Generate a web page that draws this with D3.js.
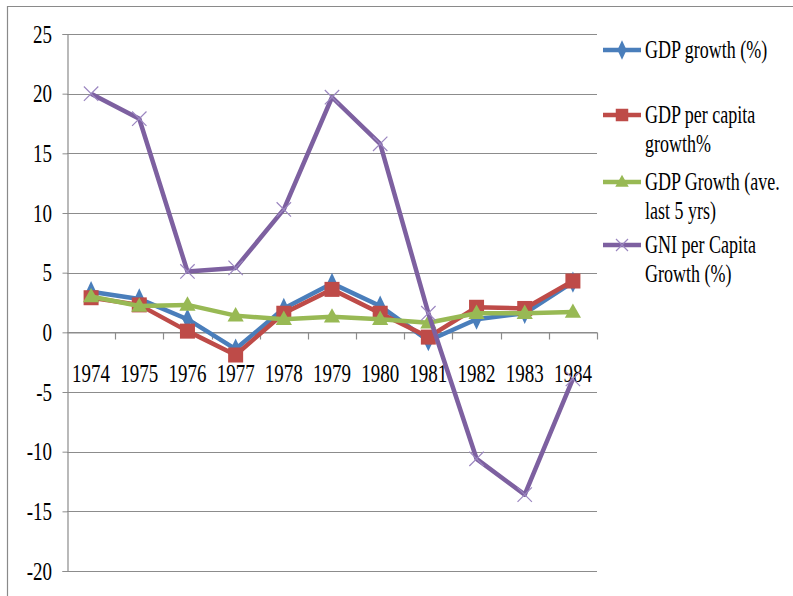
<!DOCTYPE html>
<html>
<head>
<meta charset="utf-8">
<script src="https://cdn.jsdelivr.net/npm/d3@7"></script>
<style>
  html, body { margin: 0; padding: 0; background: #fff; }
  svg { display: block; }
</style>
</head>
<body>
<svg id="chart" width="793" height="596"></svg>
<script>
const years = ["1974","1975","1976","1977","1978","1979","1980","1981","1982","1983","1984"];
const gdpGrowth      = [3.4, 2.8, 1.1, -1.4, 2.0, 4.1, 2.2, -0.7, 1.1, 1.6, 4.2];
const gdpPerCapita   = [2.9, 2.3, 0.1, -1.9, 1.6, 3.6, 1.6, -0.4, 2.1, 2.0, 4.3];
const gdpGrowthAve   = [3.0, 2.2, 2.3, 1.4, 1.1, 1.3, 1.1, 0.8, 1.6, 1.6, 1.7];
const gniPerCapita   = [20.0, 17.9, 5.1, 5.4, 10.3, 19.7, 15.8, 1.6, -10.6, -13.6, -3.9];
const yTicks = [25, 20, 15, 10, 5, 0, -5, -10, -15, -20];
const seriesNames = [["GDP growth (%)"], ["GDP per capita", "growth%"], ["GDP Growth (ave.", "last 5 yrs)"], ["GNI per Capita", "Growth (%)"]];

const colors = ["#4a7ebb", "#be4b48", "#98b954", "#7d60a0"];
const markers = ["diamond", "square", "triangle", "x"];
const seriesData = [gdpGrowth, gdpPerCapita, gdpGrowthAve, gniPerCapita];

const svg = d3.select("#chart");
const font = "'Liberation Serif', 'Times New Roman', serif";
const SY = 1.35;

// outer frame
svg.append("line").attr("x1", 7).attr("x2", 793).attr("y1", 6.5).attr("y2", 6.5).attr("stroke", "#8a8a8a").attr("stroke-width", 1.2);
svg.append("line").attr("x1", 7.5).attr("x2", 7.5).attr("y1", 6).attr("y2", 596).attr("stroke", "#8a8a8a").attr("stroke-width", 1.2);

const x = d3.scaleBand().domain(years).range([67, 597]).padding(0);
const y = d3.scaleLinear().domain([-20, 25]).range([571, 34]);
const cx = d => x(d) + x.bandwidth() / 2;

// gridlines
svg.append("g").selectAll("line").data(yTicks).join("line")
  .attr("x1", 67).attr("x2", 597)
  .attr("y1", d => Math.round(y(d)) + 0.5).attr("y2", d => Math.round(y(d)) + 0.5)
  .attr("stroke", "#8c8c8c").attr("stroke-width", 1.2);

// y axis
const yAxis = d3.axisLeft(y).tickValues(yTicks).tickSize(5).tickFormat(d => String(d));
const gy = svg.append("g").attr("transform", "translate(67.5,0)").call(yAxis);
gy.select(".domain").attr("stroke", "#8c8c8c").attr("stroke-width", 1.2);
gy.selectAll(".tick line").attr("stroke", "#8c8c8c");
gy.selectAll(".tick text").remove();
svg.append("g").selectAll("text").data(yTicks).join("text")
  .attr("transform", d => `translate(52,${y(d) + 8.5}) scale(1,${SY})`)
  .attr("text-anchor", "end")
  .attr("font-family", font).attr("font-size", 19).attr("fill", "#000")
  .text(d => String(d));

// x axis at zero
const y0 = Math.round(y(0)) + 0.5;
const xAxis = d3.axisBottom(x).tickSize(0).tickFormat("");
const gx = svg.append("g").attr("transform", `translate(0,${y0})`).call(xAxis);
gx.select(".domain").attr("stroke", "#8c8c8c").attr("stroke-width", 1.2);
gx.selectAll(".tick").remove();
const bounds = years.map(d => x(d) + x.bandwidth());
svg.append("g").selectAll("line").data(bounds).join("line")
  .attr("x1", d => Math.round(d) + 0.5).attr("x2", d => Math.round(d) + 0.5)
  .attr("y1", y0).attr("y2", y0 + 7)
  .attr("stroke", "#8c8c8c").attr("stroke-width", 1.2);
svg.append("g").selectAll("text").data(years).join("text")
  .attr("transform", d => `translate(${cx(d)},${y0 + 49}) scale(1,${SY})`)
  .attr("text-anchor", "middle")
  .attr("font-family", font).attr("font-size", 19).attr("fill", "#000")
  .text(d => d);

function drawMarker(g, type, color, size) {
  if (type === "diamond") {
    g.append("path").attr("d", d3.symbol(d3.symbolDiamond, size * 9)()).attr("fill", color)
      .attr("transform", "scale(0.9,1.1)");
  } else if (type === "square") {
    const s = size * 1.25;
    g.append("rect").attr("x", -s/2).attr("y", -s/2).attr("width", s).attr("height", s).attr("fill", color);
  } else if (type === "triangle") {
    const w = size * 1.35, h = size * 1.2;
    g.append("path").attr("d", `M0,${-h*0.6}L${w/2},${h*0.4}L${-w/2},${h*0.4}Z`).attr("fill", color);
  } else if (type === "x") {
    const s = size * 0.6;
    g.append("path").attr("d", `M${-s},${-s}L${s},${s}M${-s},${s}L${s},${-s}`)
      .attr("stroke", "#9b86c0").attr("stroke-width", 1.2).attr("fill", "none");
  }
}

const line = d3.line().x((d, i) => cx(years[i])).y(d => y(d));
const widths = [4.5, 4.5, 4.5, 4.5];

seriesData.forEach((vals, si) => {
  const g = svg.append("g");
  g.append("path").datum(vals).attr("d", line)
    .attr("fill", "none").attr("stroke", colors[si]).attr("stroke-width", widths[si])
    .attr("stroke-linejoin", "round");
  vals.forEach((v, i) => {
    const mg = g.append("g").attr("transform", `translate(${cx(years[i])},${y(v)})`);
    drawMarker(mg, markers[si], colors[si], 12);
  });
});

// legend
const legendY = [50, 115, 182, 245];
const legend = svg.append("g");
seriesNames.forEach((lines, si) => {
  const ly = legendY[si];
  legend.append("line").attr("x1", 603).attr("x2", 641).attr("y1", ly).attr("y2", ly)
    .attr("stroke", colors[si]).attr("stroke-width", 4.5);
  const mg = legend.append("g").attr("transform", `translate(622,${ly})`);
  drawMarker(mg, markers[si], colors[si], 10);
  lines.forEach((t, li) => {
    legend.append("text")
      .attr("transform", `translate(645,${ly + 8 + li * 29}) scale(1,${SY})`)
      .attr("font-family", font).attr("font-size", 18).attr("fill", "#000")
      .text(t);
  });
});
</script>
</body>
</html>
